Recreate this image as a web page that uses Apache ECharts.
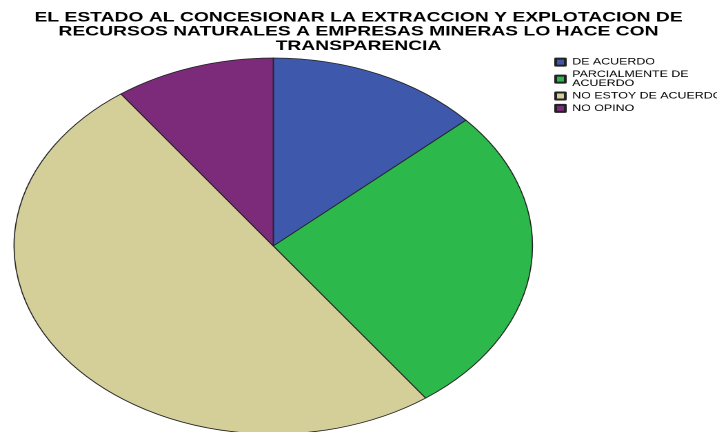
<!DOCTYPE html>
<html>
<head>
<meta charset="utf-8">
<script src="https://cdn.jsdelivr.net/npm/echarts@6/dist/echarts.min.js"></script>
<style>
html,body{margin:0;padding:0;background:#fff;overflow:hidden;}
#wrap{width:717px;height:432px;overflow:hidden;position:relative;}
#chart{position:absolute;left:0;top:0;width:520px;height:432px;transform:scaleX(1.3788);transform-origin:0 0;}
</style>
</head>
<body>
<div id="wrap"><div id="chart"></div></div>
<script>
const titleText = "EL ESTADO AL CONCESIONAR LA EXTRACCION Y EXPLOTACION DE\nRECURSOS NATURALES A EMPRESAS MINERAS LO HACE CON\nTRANSPARENCIA";
const categories = ["DE ACUERDO", "PARCIALMENTE DE ACUERDO", "NO ESTOY DE ACUERDO", "NO OPINO"];
const legendLabels = ["DE ACUERDO", "PARCIALMENTE DE\nACUERDO", "NO ESTOY DE ACUERDO", "NO OPINO"];
const values = [4, 8, 15, 3];
const colors = ["#3E59AC", "#2DB84B", "#D4CE99", "#7C2A7A"];

const chart = echarts.init(document.getElementById('chart'), null, {devicePixelRatio: 2});
const data = categories.map((c, i) => ({name: c, value: values[i], itemStyle: {color: colors[i]}}));
chart.setOption({
  animation: false,
  backgroundColor: '#fff',
  title: {
    text: titleText,
    left: 'center',
    top: 10.5,
    padding: [0, 0, 0, 13],
    textStyle: {fontFamily: 'Liberation Sans', fontWeight: 'bold', fontSize: 14, lineHeight: 14.2, color: '#000'}
  },
  legend: {
    orient: 'vertical',
    left: 402,
    top: 57.5,
    itemWidth: 7,
    itemHeight: 7,
    itemGap: 3,
    padding: 0,
    icon: 'rect',
    data: categories,
    formatter: function (name) { return legendLabels[categories.indexOf(name)]; },
    textStyle: {fontFamily: 'Liberation Sans', fontSize: 9, lineHeight: 9.3, color: '#000'},
    selectedMode: false
  },
  series: [{
    type: 'pie',
    center: [198.2, 246],
    radius: [0, 188],
    startAngle: 90,
    clockwise: true,
    label: {show: false},
    labelLine: {show: false},
    emphasis: {disabled: true},
    itemStyle: {borderColor: '#222', borderWidth: 0.8},
    data: data
  }]
});
</script>
</body>
</html>
